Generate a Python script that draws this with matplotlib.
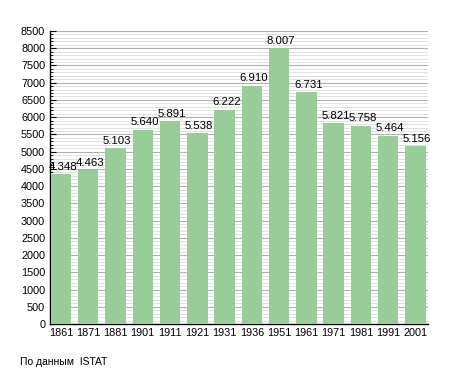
import matplotlib
matplotlib.use("Agg")
import matplotlib.pyplot as plt
from matplotlib.ticker import MultipleLocator

plt.rcParams["font.family"] = ["Liberation Sans", "DejaVu Sans"]

years = ["1861", "1871", "1881", "1901", "1911", "1921", "1931", "1936",
         "1951", "1961", "1971", "1981", "1991", "2001"]
population = [4348, 4463, 5103, 5640, 5891, 5538, 6222, 6910,
              8007, 6731, 5821, 5758, 5464, 5156]
labels = ["4.348", "4.463", "5.103", "5.640", "5.891", "5.538", "6.222", "6.910",
          "8.007", "6.731", "5.821", "5.758", "5.464", "5.156"]

fig = plt.figure(figsize=(4.55, 3.73), dpi=100)
ax = fig.add_axes([50 / 455, 49 / 373, 378 / 455, 293 / 373])

x = range(len(years))
bw = 0.75
ax.bar(x, population, width=bw, color="#99cc99", zorder=3)
for i, (v, t) in enumerate(zip(population, labels)):
    ax.text(i - bw / 2 - 0.08, v + 70, t, ha="left", va="bottom", fontsize=8.2, zorder=4)

ax.set_xlim(-0.40, len(years) - 0.54)
ax.set_ylim(0, 8500)
ax.yaxis.set_major_locator(MultipleLocator(500))
ax.yaxis.set_minor_locator(MultipleLocator(100))
ax.grid(True, which="major", axis="y", color="#b0b0b0", lw=0.8, zorder=0)
ax.grid(True, which="minor", axis="y", color="#dcdcdc", lw=0.6, zorder=0)
ax.set_xticks(list(x))
ax.set_xticklabels(years)
ax.tick_params(axis="x", length=0, labelsize=7.8, pad=3)
ax.tick_params(axis="y", which="major", length=4, labelsize=7.8, direction="in")
ax.tick_params(axis="y", which="minor", length=2, direction="in")
for s in ["top", "right"]:
    ax.spines[s].set_visible(False)
ax.spines["left"].set_linewidth(1.0)
ax.spines["bottom"].set_linewidth(1.0)

fig.text(20 / 455, 1 - 362 / 373, "По данным  ISTAT", fontsize=7.5, va="center")
fig.savefig("out.png", dpi=100)
